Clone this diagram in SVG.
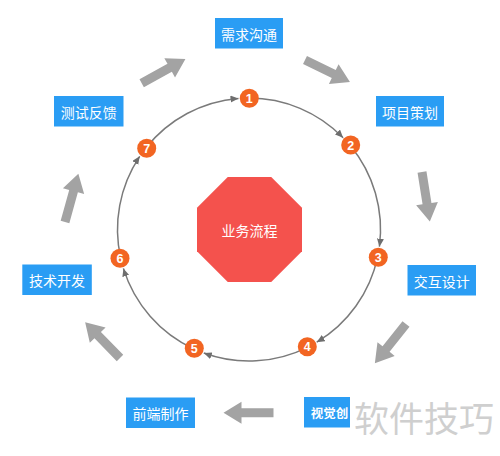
<svg xmlns="http://www.w3.org/2000/svg" width="500" height="456" viewBox="0 0 500 456">
<style>
.box{fill:#2a9df4}
.bt{fill:#fff;font-family:"Noto Sans CJK SC","Noto Sans",sans-serif;font-size:14px;text-anchor:middle;dominant-baseline:central}
.num{fill:#f26522}
.nt{fill:#fff;font-family:"Liberation Sans",Arial,sans-serif;font-size:12.5px;font-weight:bold;text-anchor:middle;dominant-baseline:central}
.arc{fill:none;stroke:#7a7a7a;stroke-width:1.5;marker-end:url(#ah)}
.big{fill:#a3a3a3}
</style>
<defs>
<marker id="ah" markerUnits="userSpaceOnUse" markerWidth="9" markerHeight="8" refX="8" refY="3.5" orient="auto">
<path d="M0,0 L8,3.5 L0,7 z" fill="#6e6e6e"/>
</marker>
<path id="blk" d="M0,-4.5 L32,-4.5 L32,-11 L50,0 L32,11 L32,4.5 L0,4.5 z"/>
</defs>
<rect width="500" height="456" fill="#fff"/>
<g id="connectors">
<path class="arc" d="M249,98 A131.5,131.5 0 0 1 343.1,137.7"/>
<path class="arc" d="M350.2,145.5 A131.5,131.5 0 0 1 379.4,246.7"/>
<path class="arc" d="M377.6,257.1 A131.5,131.5 0 0 1 316.7,342.2"/>
<path class="arc" d="M307.5,347.3 A131.5,131.5 0 0 1 203.8,353"/>
<path class="arc" d="M194,349 A131.5,131.5 0 0 1 123.4,268.4"/>
<path class="arc" d="M120.7,258.2 A131.5,131.5 0 0 1 139.7,156.3"/>
<path class="arc" d="M146,147.8 A131.5,131.5 0 0 1 238.5,98.4"/>
<g class="big">
<use href="#blk" transform="translate(141.7,83.3) rotate(-29)"/>
<use href="#blk" transform="translate(305,60) rotate(26)"/>
<use href="#blk" transform="translate(422,172) rotate(81)"/>
<use href="#blk" transform="translate(406,324) rotate(128.5)"/>
<use href="#blk" transform="translate(273.5,412.7) rotate(180)"/>
<use href="#blk" transform="translate(120,358) rotate(225.8)"/>
<use href="#blk" transform="translate(65,222) rotate(-74.5)"/>
</g>
</g>
<g id="center">
<polygon points="227.75,177 271.25,177 302,207.75 302,251.25 271.25,282 227.75,282 197,251.25 197,207.75" fill="#f4524d"/>
<text class="bt" x="249.5" y="230">业务流程</text>
</g>
<g id="n1"><circle class="num" cx="249.3" cy="98.3" r="9.5"/><text class="nt" x="249.3" y="98.8">1</text></g>
<g id="n2"><circle class="num" cx="350.7" cy="145" r="9.5"/><text class="nt" x="350.7" y="145.5">2</text></g>
<g id="n3"><circle class="num" cx="378.3" cy="257.3" r="9.5"/><text class="nt" x="378.3" y="257.8">3</text></g>
<g id="n4"><circle class="num" cx="307.3" cy="346.7" r="9.5"/><text class="nt" x="307.3" y="347.2">4</text></g>
<g id="n5"><circle class="num" cx="194.3" cy="348.3" r="9.5"/><text class="nt" x="194.3" y="348.8">5</text></g>
<g id="n6"><circle class="num" cx="120" cy="258.3" r="9.5"/><text class="nt" x="120" y="258.8">6</text></g>
<g id="n7"><circle class="num" cx="146.7" cy="148.3" r="9.5"/><text class="nt" x="146.7" y="148.8">7</text></g>
<g id="b1"><rect class="box" x="215" y="18" width="68" height="30.5"/><text class="bt" x="249" y="33.5">需求沟通</text></g>
<g id="b2"><rect class="box" x="376" y="96" width="68" height="30.5"/><text class="bt" x="410" y="111.5">项目策划</text></g>
<g id="b3"><rect class="box" x="407.5" y="265" width="68.5" height="30.5"/><text class="bt" x="441.7" y="280.5">交互设计</text></g>
<g id="b4"><rect class="box" x="304" y="397" width="46" height="30.5"/><text class="bt" x="329.5" y="412.5" style="font-size:12.5px;font-weight:bold">视觉创</text></g>
<g id="b5"><rect class="box" x="126" y="397.5" width="69" height="30.5"/><text class="bt" x="160.5" y="413">前端制作</text></g>
<g id="b6"><rect class="box" x="22.3" y="264.5" width="69.5" height="30.5"/><text class="bt" x="57" y="280">技术开发</text></g>
<g id="b7"><rect class="box" x="54" y="96" width="69.5" height="30.5"/><text class="bt" x="88.7" y="111.5">测试反馈</text></g>
<text x="354" y="431.5" font-family="Noto Sans CJK SC,sans-serif" font-size="35" fill="#cfcfcf">软件技巧</text>
</svg>
